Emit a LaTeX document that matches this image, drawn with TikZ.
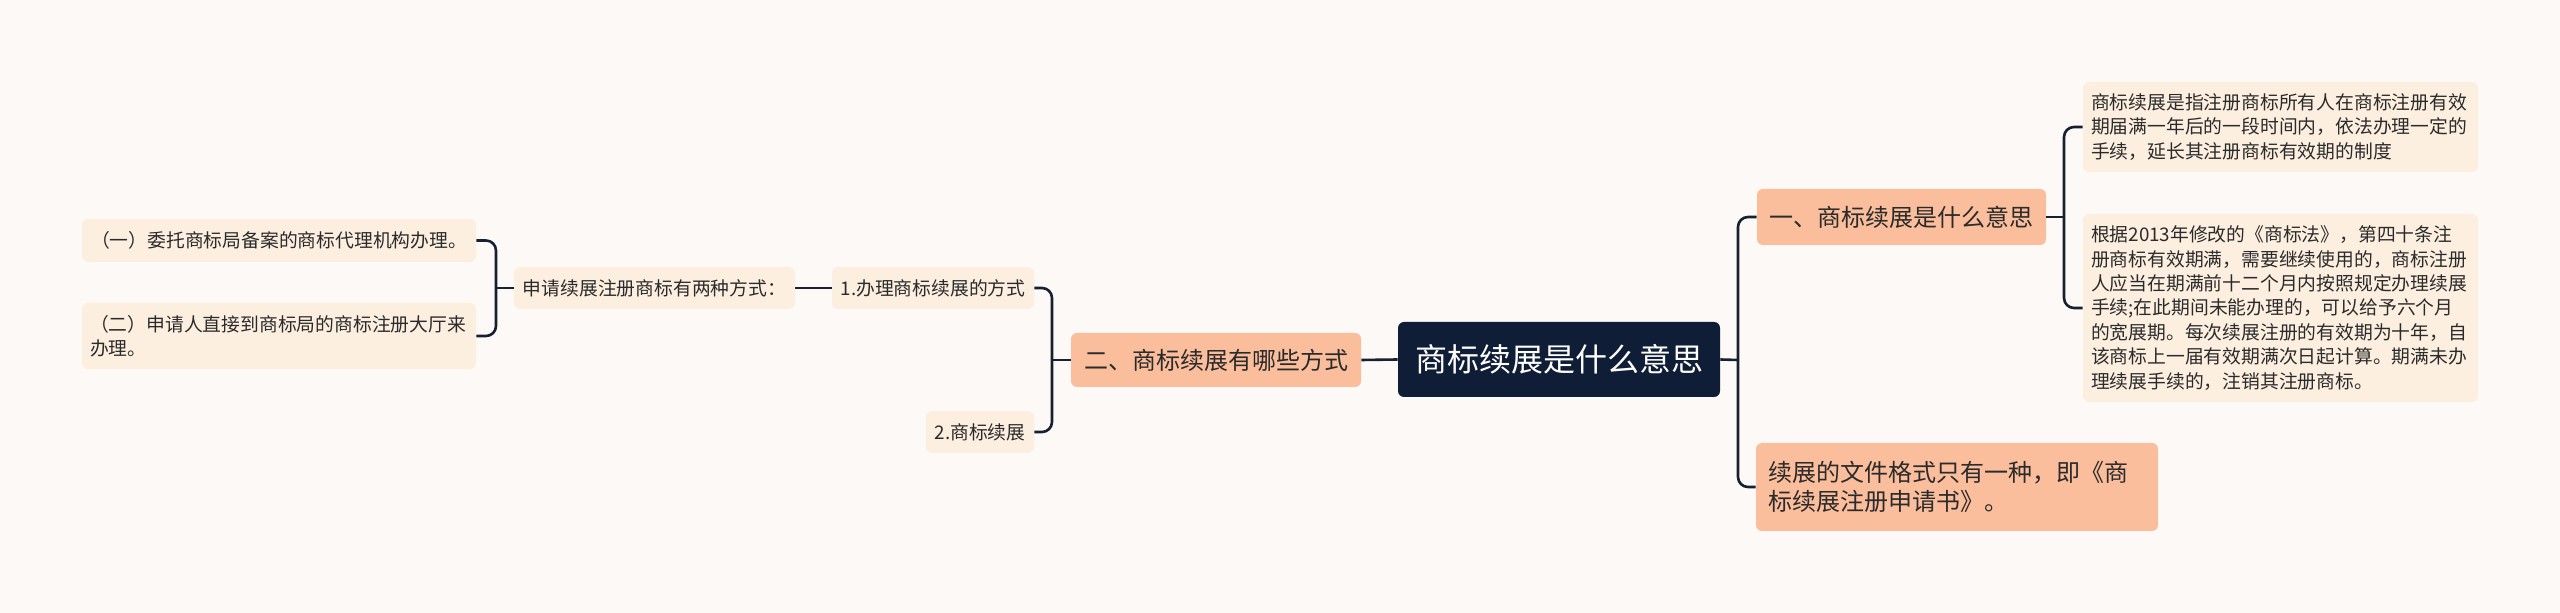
\documentclass[tikz,border=0pt]{standalone}
\usepackage{fontspec}
\setmainfont{Noto Sans CJK SC}
\definecolor{bgc}{HTML}{FDF9F7}
\definecolor{rootc}{HTML}{0F1E36}
\definecolor{peach}{HTML}{FBBE9C}
\definecolor{cream}{HTML}{FDEFE0}
\definecolor{linec}{HTML}{17202F}
\definecolor{txt}{HTML}{2B2B2B}
\tikzset{
  box/.style={rectangle, rounded corners=3pt, inner xsep=4pt, inner ysep=0pt, text=txt},
  rootbox/.style={box, fill=rootc, text=white, font=\fontsize{16}{19}\selectfont},
  mainbox/.style={box, fill=peach, font=\fontsize{12}{14.2}\selectfont},
  leafbox/.style={box, fill=cream, font=\fontsize{9.4}{12.2}\selectfont},
  conn/.style={draw=linec, line width=1.3pt, rounded corners=5pt},
}
\begin{document}
\begin{tikzpicture}[x=0.5pt,y=-0.5pt]
\fill[bgc] (0,0) rectangle (2560,613);
\useasboundingbox (0,0) rectangle (2560,613);
% nodes
\node[rootbox, minimum width=161pt, minimum height=37.5pt] (root) at (1559,359.5) {商标续展是什么意思};
\node[mainbox, minimum width=145pt, minimum height=27pt] (two) at (1216,360) {二、商标续展有哪些方式};
\node[leafbox, minimum width=101pt, minimum height=21pt] (m1) at (933,288) {1.办理商标续展的方式};
\node[leafbox, minimum width=54pt, minimum height=21pt] (m2) at (980,432) {2.商标续展};
\node[leafbox, minimum width=140.5pt, minimum height=21pt] (apply) at (654.5,288) {申请续展注册商标有两种方式：};
\node[leafbox, minimum width=197pt, minimum height=21.5pt] (w1) at (279,240.5) {（一）委托商标局备案的商标代理机构办理。};
\node[leafbox, minimum width=197pt, minimum height=33pt, text width=189pt, align=left] (w2) at (279,336) {（二）申请人直接到商标局的商标注册大厅来\\办理。};
\node[mainbox, minimum width=144.5pt, minimum height=28pt] (one) at (1901.5,217) {一、商标续展是什么意思};
\node[leafbox, minimum width=197.5pt, minimum height=45pt, text width=189.5pt, align=left] (d1) at (2280.5,127) {商标续展是指注册商标所有人在商标注册有效\\期届满一年后的一段时间内，依法办理一定的\\手续，延长其注册商标有效期的制度};
\node[leafbox, minimum width=197.5pt, minimum height=94pt, text width=189.5pt, align=left] (d2) at (2280.5,308) {根据2013年修改的《商标法》，第四十条注\\册商标有效期满，需要继续使用的，商标注册\\人应当在期满前十二个月内按照规定办理续展\\手续;在此期间未能办理的，可以给予六个月\\的宽展期。每次续展注册的有效期为十年，自\\该商标上一届有效期满次日起计算。期满未办\\理续展手续的，注销其注册商标。};
\node[mainbox, minimum width=201pt, minimum height=44pt, inner xsep=6pt, text width=189pt, align=left] (file) at (1957,487) {续展的文件格式只有一种，即《商\\标续展注册申请书》。};
% junctions
\coordinate (jr) at (1738,360);
\coordinate (jone) at (2064,217);
\coordinate (jtwo) at (1052,360);
\coordinate (japp) at (496,288);
% connectors
\draw[conn] (root.east) -- (jr);
\draw[conn] (jr) |- (one.west);
\draw[conn] (jr) |- (file.west);
\draw[conn] (one.east) -- (jone);
\draw[conn] (jone) |- (d1.west);
\draw[conn] (jone) |- (d2.west);
\draw[conn] (root.west) -- (two.east);
\draw[conn] (two.west) -- (jtwo);
\draw[conn] (jtwo) |- (m1.east);
\draw[conn] (jtwo) |- (m2.east);
\draw[conn] (m1.west) -- (apply.east);
\draw[conn] (apply.west) -- (japp);
\draw[conn] (japp) |- (w1.east);
\draw[conn] (japp) |- (w2.east);
\end{tikzpicture}
\end{document}
